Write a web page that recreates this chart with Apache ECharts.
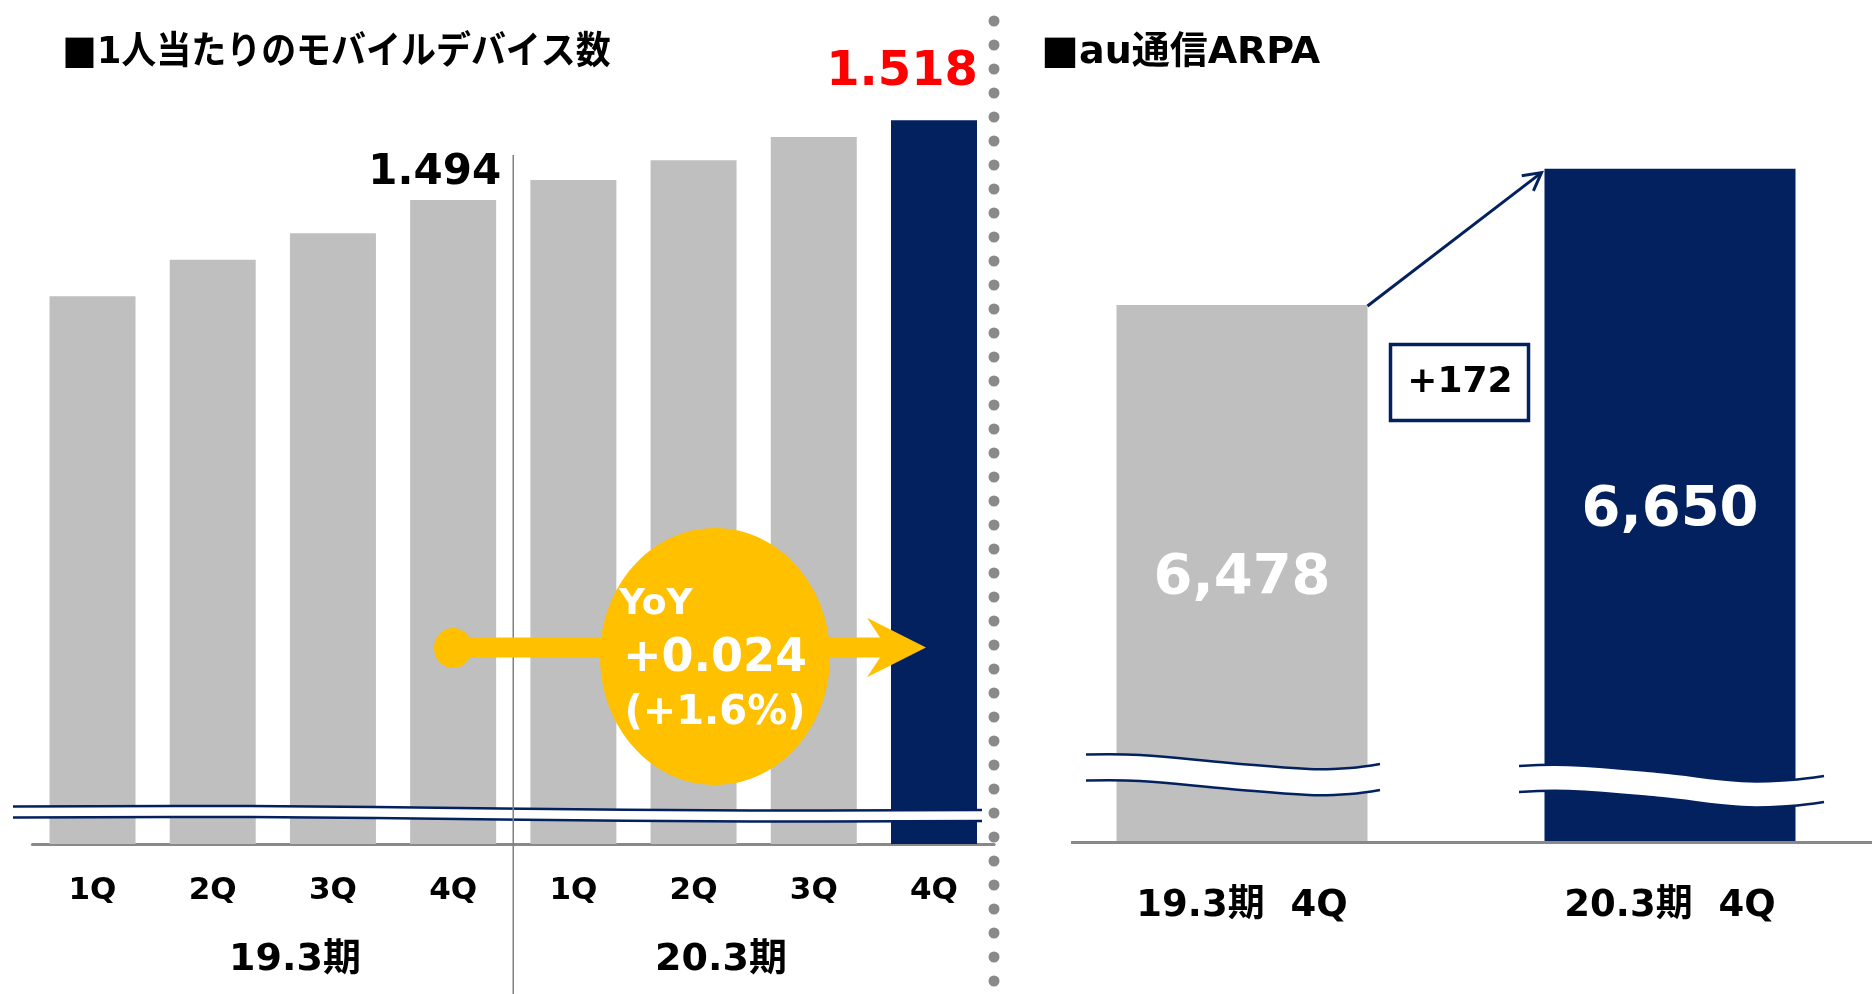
<!DOCTYPE html>
<html>
<head>
  <meta charset="utf-8" />
  <title>ECharts</title>
  <script src="https://cdn.jsdelivr.net/npm/echarts@6/dist/echarts.min.js"></script>
  <style>
    html, body { margin: 0; padding: 0; background: #fff; }
    #main { width: 1872px; height: 994px; }
  </style>
</head>
<body>
<div id="main"></div>
<script type="text/javascript">
  // data
  var periods = ['19.3期', '20.3期'];
  var quarters = ['1Q', '2Q', '3Q', '4Q'];
  var deviceValues = [1.465, 1.476, 1.484, 1.494, 1.500, 1.506, 1.513, 1.518];
  var arpaCategories = ['19.3期  4Q', '20.3期  4Q'];
  var arpaValues = [6478, 6650];
  var titles = ['■1人当たりのモバイルデバイス数', '■au通信ARPA'];

  var FONT = "'DejaVu Sans', 'Noto Sans CJK JP', sans-serif";
  var CJK = "'Noto Sans CJK JP', sans-serif";
  var NAVY = '#03215F';
  var GRAY = '#BFBFBF';
  var YELLOW = '#FFC000';
  var AXIS = '#898989';

  var deviceCategories = [];
  periods.forEach(function (p) {
    quarters.forEach(function (q) { deviceCategories.push(p + '|' + q); });
  });

  var myChart = echarts.init(document.getElementById('main'));

  var deviceData = deviceValues.map(function (v, i) {
    var item = { value: v, itemStyle: { color: i === deviceValues.length - 1 ? NAVY : GRAY } };
    if (i === 3) {
      item.label = { show: true, position: ['100%', -27], offset: [5, 0], align: 'right', verticalAlign: 'middle', fontSize: 42, color: '#000' };
    }
    if (i === deviceValues.length - 1) {
      item.label = { show: true, position: ['100%', -48], offset: [1, 0], align: 'right', verticalAlign: 'middle', fontSize: 48, color: '#FF0000' };
    }
    return item;
  });

  var arpaLabelTop = [273, 342];
  var arpaData = arpaValues.map(function (v, i) {
    return {
      value: v,
      itemStyle: { color: i === arpaValues.length - 1 ? NAVY : GRAY },
      label: { position: ['50%', arpaLabelTop[i]] }
    };
  });

  var option = {
    backgroundColor: '#fff',
    animation: false,
    grid: [
      { left: 32.4, width: 961.7, top: 80.5, bottom: 150, outerBoundsMode: 'none' },
      { left: 1028, width: 856, top: 129, bottom: 151.5, outerBoundsMode: 'none' }
    ],
    xAxis: [
      {
        type: 'category', gridIndex: 0, data: deviceCategories,
        axisTick: { show: false },
        axisLine: { lineStyle: { color: AXIS, width: 3 } },
        axisLabel: {
          margin: 31, fontSize: 31, fontWeight: 'bold', color: '#000', fontFamily: FONT,
          formatter: function (v) { return v.split('|')[1]; }
        }
      },
      {
        type: 'category', gridIndex: 1, data: arpaCategories,
        axisTick: { show: false },
        axisLine: { show: false },
        axisLabel: { margin: 45, fontSize: 37, fontWeight: 'bold', color: '#000', fontFamily: FONT }
      }
    ],
    yAxis: [
      { type: 'value', gridIndex: 0, min: 1.30, max: 1.53, show: false },
      { type: 'value', gridIndex: 1, min: 5800, max: 6700, show: false }
    ],
    series: [
      {
        name: 'devices', type: 'bar', xAxisIndex: 0, yAxisIndex: 0, barWidth: 86,
        data: deviceData,
        label: {
          fontFamily: FONT, fontWeight: 'bold',
          formatter: function (p) { return p.value.toFixed(3); }
        }
      },
      {
        name: 'arpa', type: 'bar', xAxisIndex: 1, yAxisIndex: 1, barWidth: 251,
        data: arpaData,
        label: {
          show: true, align: 'center', verticalAlign: 'middle',
          fontFamily: FONT, fontWeight: 'bold', fontSize: 56, color: '#fff',
          formatter: function (p) { return p.value.toLocaleString('en-US'); }
        }
      }
    ]
  };
  myChart.setOption(option);

  // annotations
  function txt(text, x, y, size, color, align) {
    return { type: 'text', z: 100, style: {
      text: text, x: x, y: y, fill: color, fontSize: size, fontWeight: 'bold', fontFamily: FONT,
      align: align || 'center', verticalAlign: 'middle' } };
  }
  function titleText(text, x, sx) {
    return { type: 'text', z: 100, x: x, y: 53, scaleX: sx, style: {
      text: '{sq|' + text.charAt(0) + '}' + text.slice(1), x: 0, y: 0, fill: '#000',
      fontSize: 38, fontWeight: 'bold', fontFamily: FONT, verticalAlign: 'middle',
      rich: { sq: { fontSize: 38, fontWeight: 'bold', fontFamily: CJK, fill: '#000' } } } };
  }
  function breakMark(top, gap) {
    var mid = top.map(function (p) { return [p[0], p[1] + gap / 2]; });
    var bot = top.map(function (p) { return [p[0], p[1] + gap]; });
    return [
      { type: 'polyline', z: 100, shape: { points: mid, smooth: 0.4 }, style: { stroke: '#fff', lineWidth: gap, fill: null } },
      { type: 'polyline', z: 100, shape: { points: top, smooth: 0.4 }, style: { stroke: NAVY, lineWidth: 2.5, fill: null } },
      { type: 'polyline', z: 100, shape: { points: bot, smooth: 0.4 }, style: { stroke: NAVY, lineWidth: 2.5, fill: null } }
    ];
  }

  var c3 = myChart.convertToPixel({ gridIndex: 0 }, [3, deviceValues[3]]);
  var c4 = myChart.convertToPixel({ gridIndex: 0 }, [4, deviceValues[4]]);
  var sepX = (c3[0] + c4[0]) / 2;

  var a0 = myChart.convertToPixel({ gridIndex: 1 }, [0, arpaValues[0]]);
  var a1 = myChart.convertToPixel({ gridIndex: 1 }, [1, arpaValues[1]]);
  var sx = a0[0] + 251 / 2, sy = a0[1] + 1;
  var ex = a1[0] - 251 / 2 - 3, ey = a1[1] + 4;
  var ang = Math.atan2(ey - sy, ex - sx);
  var headLen = 20;

  var yoyDiff = deviceValues[7] - deviceValues[3];
  var yoyPct = yoyDiff / deviceValues[3] * 100;
  var arpaDiff = arpaValues[1] - arpaValues[0];

  var els = [titleText(titles[0], 62, 0.92), titleText(titles[1], 1041, 1)];
  els = els.concat(breakMark([[13, 806.5], [250, 806], [500, 808.5], [750, 810.5], [982, 810]], 11));
  els = els.concat(breakMark([[1086, 754.5], [1140, 755], [1230, 763], [1309, 769], [1350, 768], [1380, 764]], 26));
  els = els.concat(breakMark([[1519, 766], [1568, 765], [1660, 772], [1742, 781], [1790, 780], [1824, 776]], 26));
  els.push(
    { type: 'line', z: 100, shape: { x1: sepX, y1: 155, x2: sepX, y2: 994 }, style: { stroke: '#808080', lineWidth: 1.5 } },
    { type: 'line', z: 100, shape: { x1: 994, y1: 21, x2: 994, y2: 994 },
      style: { stroke: '#8A8A8A', lineWidth: 11, lineCap: 'round', lineDash: [0.1, 23.9] } },
    { type: 'line', z: 100, shape: { x1: 1071, y1: 842.5, x2: 1872, y2: 842.5 }, style: { stroke: AXIS, lineWidth: 3 } },
    // YoY arrow
    { type: 'rect', z: 100, shape: { x: 453, y: 637.5, width: 430, height: 20 }, style: { fill: YELLOW } },
    { type: 'ellipse', z: 100, shape: { cx: 453, cy: 648, rx: 19, ry: 20 }, style: { fill: YELLOW } },
    { type: 'polygon', z: 100, shape: { points: [[867, 617.7], [926, 647.5], [867, 677.3], [880, 657.5], [880, 637.5]] }, style: { fill: YELLOW } },
    { type: 'ellipse', z: 100, shape: { cx: 715, cy: 656.5, rx: 115, ry: 128.5 }, style: { fill: YELLOW } },
    txt('YoY', 619, 605, 36, '#fff', 'left'),
    txt('+' + yoyDiff.toFixed(3), 715, 659, 46, '#fff'),
    txt('(+' + yoyPct.toFixed(1) + '%)', 715, 714, 40, '#fff'),
    txt(periods[0], 295, 960, 38, '#000'),
    txt(periods[1], 721, 960, 38, '#000'),
    // ARPA arrow
    { type: 'line', z: 100, shape: { x1: sx, y1: sy, x2: ex, y2: ey }, style: { stroke: NAVY, lineWidth: 3 } },
    { type: 'polyline', z: 100, shape: { points: [
        [ex - headLen * Math.cos(ang - 0.5), ey - headLen * Math.sin(ang - 0.5)], [ex, ey],
        [ex - headLen * Math.cos(ang + 0.5), ey - headLen * Math.sin(ang + 0.5)]] },
      style: { stroke: NAVY, lineWidth: 3, fill: null } },
    { type: 'rect', z: 100, shape: { x: 1390.5, y: 344.5, width: 138, height: 76 }, style: { fill: '#fff', stroke: NAVY, lineWidth: 3.5 } },
    txt('+' + arpaDiff, 1460, 383, 36, '#000')
  );

  myChart.setOption({ graphic: { elements: els } });
</script>
</body>
</html>
